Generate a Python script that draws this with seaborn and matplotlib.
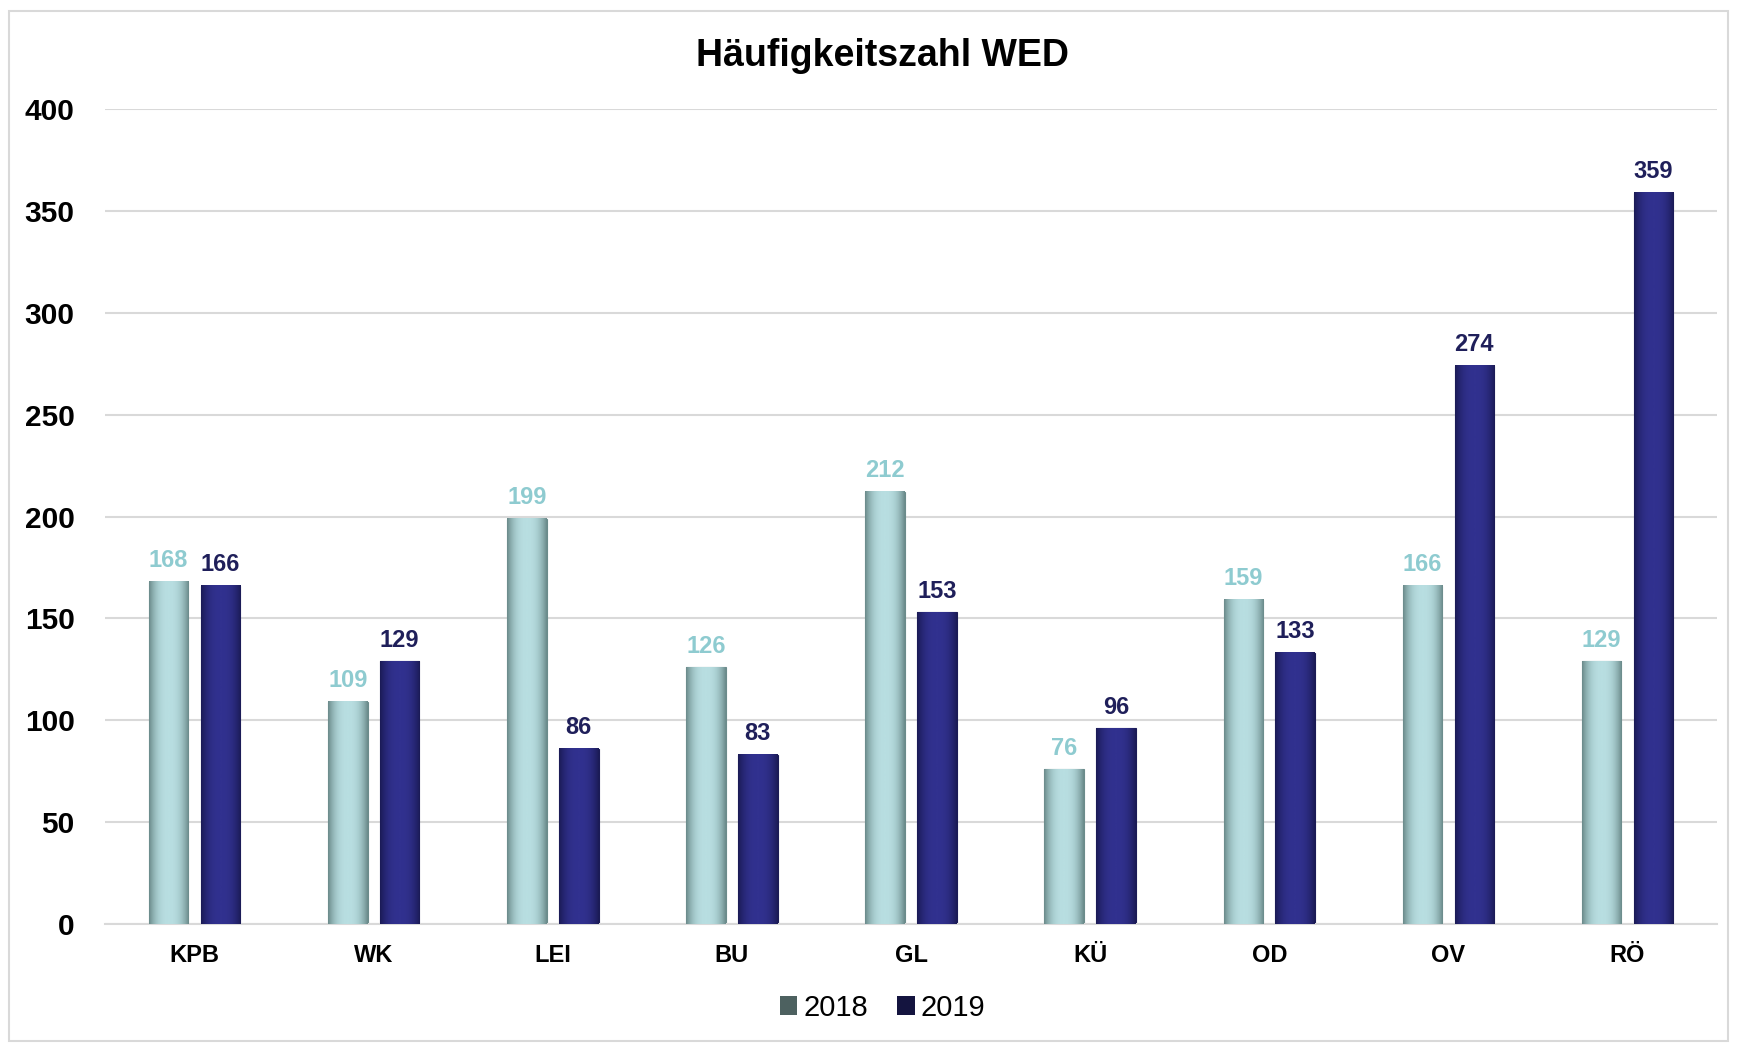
import numpy as np
import pandas as pd
import matplotlib
matplotlib.use("Agg")
import matplotlib.pyplot as plt
import seaborn as sns
from matplotlib.patches import Patch, Rectangle
from matplotlib.colors import LinearSegmentedColormap

# Daten
kategorien = ["KPB", "WK", "LEI", "BU", "GL", "KÜ", "OD", "OV", "RÖ"]
werte_2018 = [168, 109, 199, 126, 212, 76, 159, 166, 129]
werte_2019 = [166, 129, 86, 83, 153, 96, 133, 274, 359]
jahre = ["2018", "2019"]

df = pd.DataFrame({
    "Bereich": kategorien * 2,
    "Jahr": [jahre[0]] * len(kategorien) + [jahre[1]] * len(kategorien),
    "Wert": werte_2018 + werte_2019,
})

# Farben (Mitte / Rand der Säulen, Beschriftung, Legende)
farbe_mitte = {"2018": "#b8dee1", "2019": "#31318f"}
farbe_rand = {"2018": "#6b8b8b", "2019": "#1b1b56"}
farbe_label = {"2018": "#8ecbd0", "2019": "#1f1f5a"}
farbe_legende = {"2018": "#4d6160", "2019": "#14143f"}

sns.set_theme(style="white")
plt.rcParams["font.family"] = ["Liberation Sans", "DejaVu Sans"]
plt.rcParams["text.color"] = "black"
plt.rcParams["xtick.color"] = "black"
plt.rcParams["ytick.color"] = "black"

fig = plt.figure(figsize=(17.37, 10.43), dpi=100)
ax = fig.add_axes([0.0605, 0.114, 0.928, 0.7815])

sns.barplot(data=df, x="Bereich", y="Wert", hue="Jahr", order=kategorien,
            hue_order=jahre, palette=farbe_mitte, width=0.58, gap=0.24,
            legend=False, ax=ax, zorder=2)

# Zylinder-Schattierung über jede Säule legen
t = np.linspace(0, 1, 64)
profil = 1 - np.abs(2 * t - 1) ** 2.5
for container, jahr in zip(ax.containers, jahre):
    cmap = LinearSegmentedColormap.from_list(
        jahr, [farbe_rand[jahr], farbe_mitte[jahr]])
    for bar in container:
        x, y = bar.get_x(), bar.get_y()
        w, h = bar.get_width(), bar.get_height()
        ax.imshow(profil[np.newaxis, :], cmap=cmap, vmin=0, vmax=1,
                  extent=[x, x + w, y, y + h], aspect="auto", zorder=3,
                  interpolation="bilinear")
        bar.set_edgecolor(farbe_rand[jahr])
        bar.set_linewidth(0.8)
    ax.bar_label(container, padding=7, fontsize=17, fontweight="bold",
                 color=farbe_label[jahr], zorder=4)

ax.set_xlim(-0.5, 8.5)
ax.set_ylim(0, 400)
ax.set_yticks(range(0, 401, 50))
ax.yaxis.grid(True, color="#d9d9d9", linewidth=1.5, zorder=0)
ax.set_axisbelow(True)
for s in ["top", "right", "left"]:
    ax.spines[s].set_visible(False)
ax.spines["bottom"].set_color("#d9d9d9")
ax.spines["bottom"].set_linewidth(1.5)
ax.tick_params(axis="y", length=0, pad=22, labelsize=21.5)
ax.tick_params(axis="x", length=0, pad=14, labelsize=17)
for lbl in ax.get_yticklabels() + ax.get_xticklabels():
    lbl.set_fontweight("bold")
ax.set_xlabel("")
ax.set_ylabel("")

fig.text(0.508, 0.946, "Häufigkeitszahl WED", ha="center", va="center",
         fontsize=27, fontweight="bold", color="black")

handles = [Patch(facecolor=farbe_legende[j], edgecolor="none", label=j)
           for j in jahre]
fig.legend(handles=handles, loc="center", bbox_to_anchor=(0.508, 0.034),
           ncol=2, frameon=False, fontsize=21, handlelength=0.6,
           handleheight=0.6, handletextpad=0.2, columnspacing=1.0)

# dünner grauer Rahmen um das Diagramm
fig.patches.append(Rectangle((9 / 1737, 2 / 1043), 1719 / 1737, 1030 / 1043,
                             transform=fig.transFigure, fill=False,
                             edgecolor="#d9d9d9", linewidth=1.5))

fig.savefig("out.png", dpi=100)
